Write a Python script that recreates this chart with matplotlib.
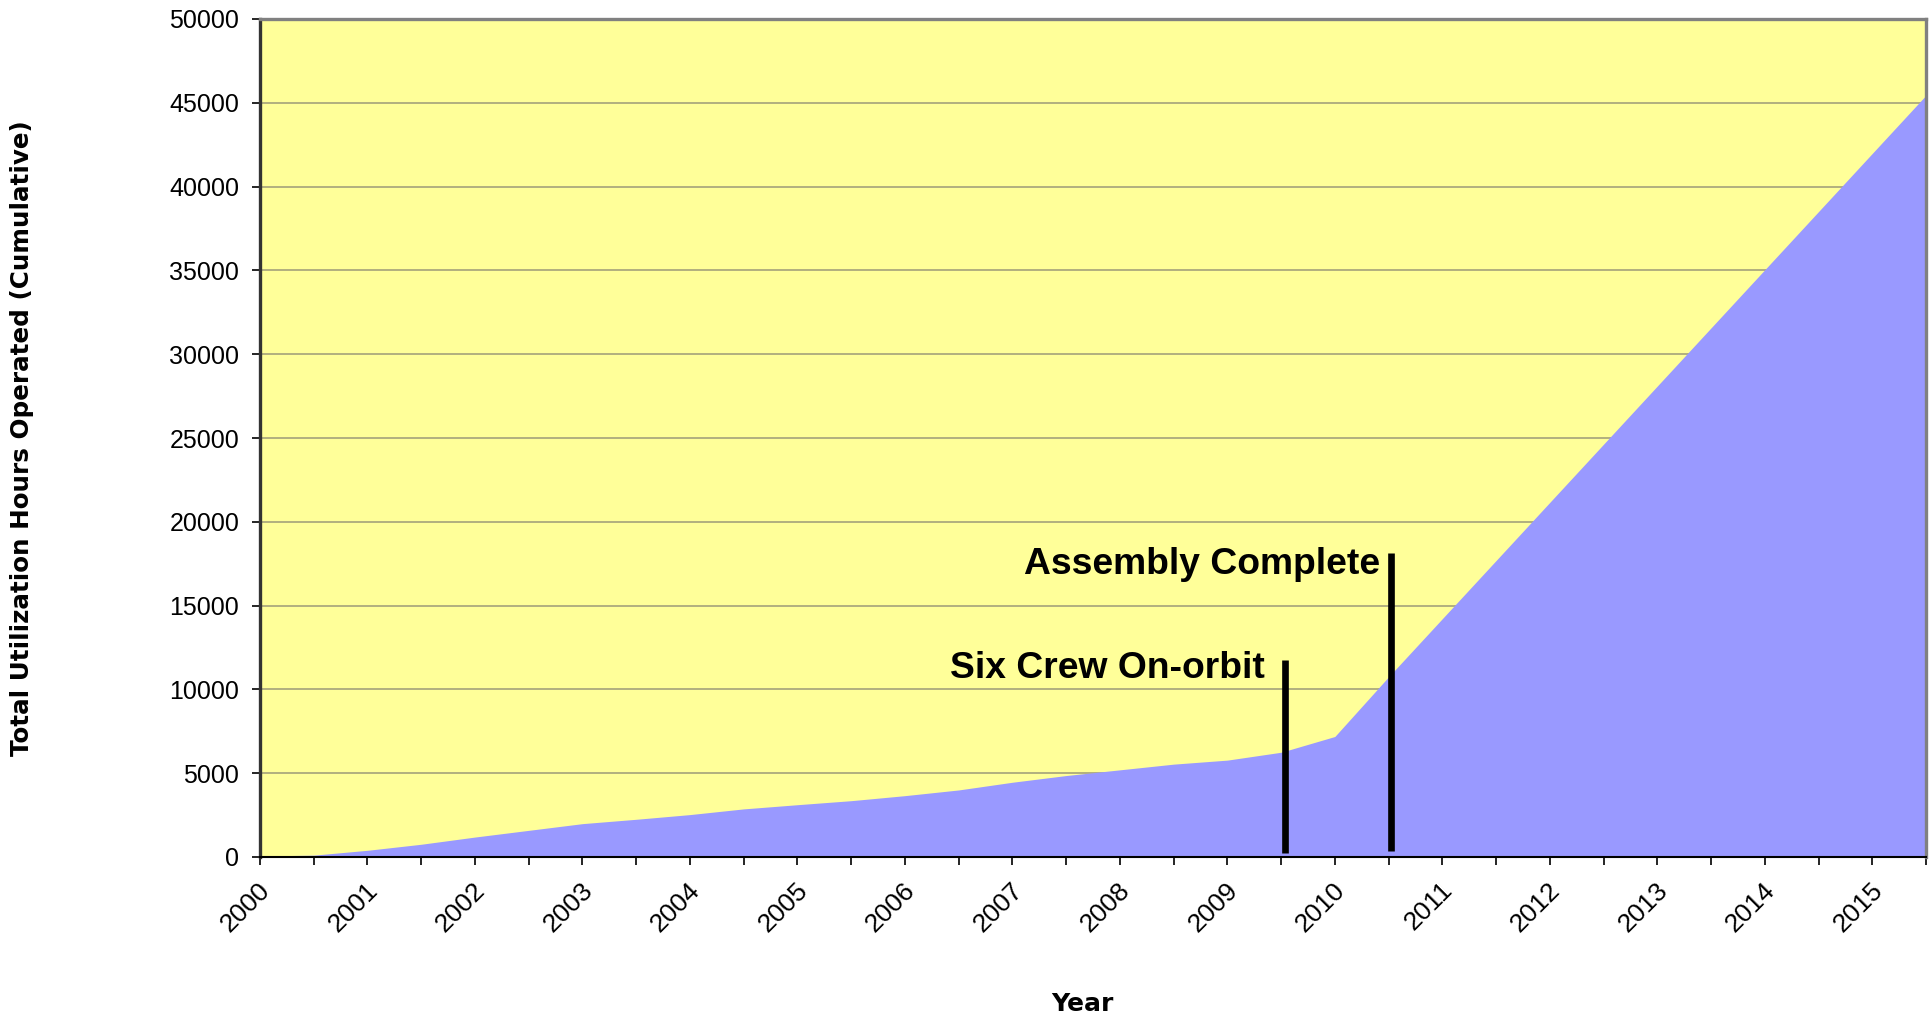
import matplotlib
matplotlib.use("Agg")
import matplotlib.pyplot as plt
import matplotlib.transforms as mtransforms
import numpy as np

# Half-year reporting periods, 2000.0 through 2015.5
periods = [2000.0, 2000.5, 2001.0, 2001.5, 2002.0, 2002.5, 2003.0, 2003.5,
           2004.0, 2004.5, 2005.0, 2005.5, 2006.0, 2006.5, 2007.0, 2007.5,
           2008.0, 2008.5, 2009.0, 2009.5, 2010.0, 2010.5, 2011.0, 2011.5,
           2012.0, 2012.5, 2013.0, 2013.5, 2014.0, 2014.5, 2015.0, 2015.5]

# Cumulative utilization hours at each period
hours = [60, 110, 400, 760, 1190, 1590, 1990, 2250,
         2530, 2870, 3120, 3360, 3660, 4000, 4460, 4860,
         5200, 5540, 5780, 6250, 7190, 10750, 14220, 17690,
         21160, 24630, 28100, 31570, 35040, 38510, 41980, 45450]

year_labels = ['2000', '2001', '2002', '2003', '2004', '2005', '2006', '2007',
               '2008', '2009', '2010', '2011', '2012', '2013', '2014', '2015']

y_ticks = [0, 5000, 10000, 15000, 20000, 25000, 30000, 35000, 40000, 45000, 50000]

# Milestone markers: (label, x position, bar bottom, bar top, label x, label y)
milestones = [
    ("Six Crew On-orbit", 2009.54, 250, 11750, 2009.35, 10710),
    ("Assembly Complete", 2010.52, 350, 18150, 2010.42, 16890),
]

fig = plt.figure(figsize=(19.33, 10.16), dpi=100)
ax = fig.add_axes([260 / 1933, 1 - 857 / 1016, 1666 / 1933, 838 / 1016])

ax.set_facecolor('#FFFF99')
ax.fill_between(periods, hours, 0, color='#9999FF', linewidth=0, zorder=2)

ax.set_xlim(periods[0], periods[-1])
ax.set_ylim(0, 50000)

# Gridlines sit behind the filled area
ax.set_axisbelow(True)
ax.set_yticks(y_ticks)
ax.set_yticklabels([str(v) for v in y_ticks], fontfamily='Liberation Sans', fontsize=18)
ax.yaxis.grid(True, color='#9c9a78', linewidth=1.1, zorder=0)
ax.xaxis.grid(False)

year_pos = [float(y) for y in year_labels]
ax.set_xticks(year_pos)
ax.set_xticks([p + 0.5 for p in year_pos], minor=True)
ax.set_xticklabels(year_labels, rotation=45, ha='right', va='top',
                   fontfamily='Liberation Sans', fontsize=19)

ax.tick_params(axis='both', which='both', direction='out', length=6, width=1.2, color='black')
ax.tick_params(axis='y', pad=9)
ax.tick_params(axis='x', pad=9)

offset = mtransforms.ScaledTranslation(15 / 100, 0, fig.dpi_scale_trans)
for lab in ax.get_xticklabels():
    lab.set_transform(lab.get_transform() + offset)

for side in ('top', 'right'):
    ax.spines[side].set_color('#808080')
    ax.spines[side].set_linewidth(2.4)
ax.spines['left'].set_color('#333333')
ax.spines['left'].set_linewidth(2.4)
ax.spines['bottom'].set_color('black')
ax.spines['bottom'].set_linewidth(1.5)

for label, xpos, y0, y1, tx, ty in milestones:
    ax.plot([xpos, xpos], [y0, y1], color='black', linewidth=4.8,
            solid_capstyle='butt', zorder=4)
    ax.text(tx, ty, label, ha='right', va='baseline', fontfamily='Liberation Sans',
            fontweight='bold', fontsize=26.8, color='black', zorder=5)

ax.set_ylabel('Total Utilization Hours Operated (Cumulative)', fontfamily='DejaVu Sans',
              fontweight='bold', fontsize=17.7, va='center')
ax.yaxis.set_label_coords(-0.1429, 0.5)
ax.set_xlabel('Year', fontfamily='DejaVu Sans', fontweight='bold', fontsize=18, va='center')
ax.xaxis.set_label_coords(0.4934, -0.1754)

fig.savefig('out.png', dpi=100, facecolor='white')
